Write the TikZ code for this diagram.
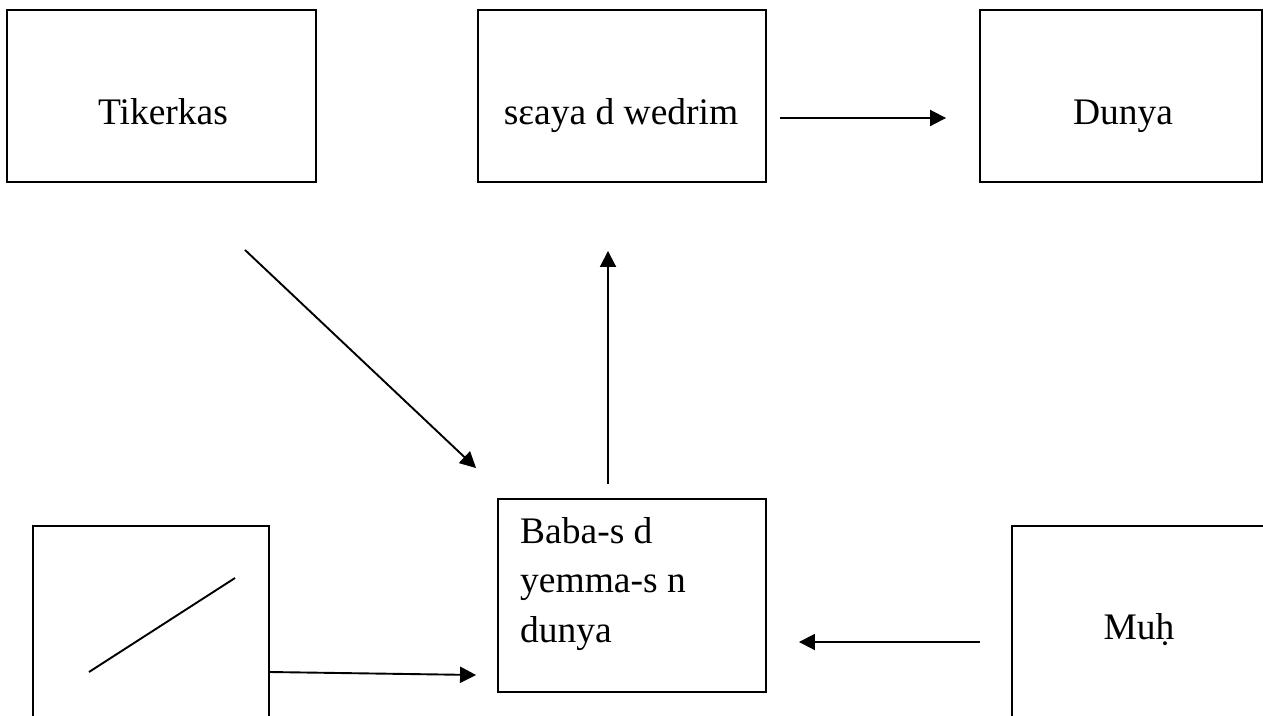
\documentclass[tikz,border=0pt]{standalone}
\usepackage{fontspec}
\setmainfont{Liberation Serif}
\usetikzlibrary{arrows.meta}
\begin{document}
\begin{tikzpicture}[x=1pt,y=-1pt,
		box/.style={draw,line width=1.9pt,inner sep=0pt},
		txt/.style={anchor=base,font=\fontsize{37.5}{49.5}\selectfont},
		arr/.style={line width=1.9pt,-{Triangle[length=16pt,width=16pt]}}]
		\useasboundingbox (0,0) rectangle (1263,715);
		\clip (0,0) rectangle (1263,715);
		\node[box,minimum width=309pt,minimum height=172pt] (tikerkas) at (161.5,96) {};
		\node[box,minimum width=288pt,minimum height=172pt] (seaya) at (622,96) {};
		\node[box,minimum width=282pt,minimum height=172pt] (dunya) at (1121,96) {};
		\node[box,minimum width=268pt,minimum height=193pt] (baba) at (632,595.5) {};
		\node[box,minimum width=236pt,minimum height=214pt] (blank) at (151,633) {};
		\node[box,minimum width=278pt,minimum height=214pt] (muh) at (1151,633) {};
		\node[txt] (tikerkas-t) at (163,124) {Tikerkas};
		\node[txt] (seaya-t) at (621,124) {sɛaya d wedrim};
		\node[txt] (dunya-t) at (1123,124) {Dunya};
		\node[txt] (muh-t) at (1139,639) {Muḥ};
		\node[txt,anchor=base west,align=left,inner sep=0pt] (baba-t) at (520,642) {Baba-s d\\yemma-s n\\dunya};
		\draw[line width=1.9pt] (89,672) -- (235,578);
		\draw[arr,shorten <=13pt,shorten >=33pt] ([yshift=-22pt]seaya.east) -- ([yshift=-22pt]dunya.west);
		\draw[arr] ([xshift=83.5pt,yshift=-67pt]tikerkas.south) -- ([xshift=-21pt,yshift=30pt]baba.north west);
		\draw[arr] ([xshift=-24pt,yshift=14pt]baba.north) -- ([xshift=-14pt,yshift=-68pt]seaya.south);
		\draw[arr] ([yshift=-39pt]blank.east) -- ([xshift=-21pt,yshift=-79.5pt]baba.west);
		\draw[arr] ([xshift=-31pt,yshift=-9pt]muh.west) -- ([xshift=32pt,yshift=-46.5pt]baba.east);
	\end{tikzpicture}
\end{document}
